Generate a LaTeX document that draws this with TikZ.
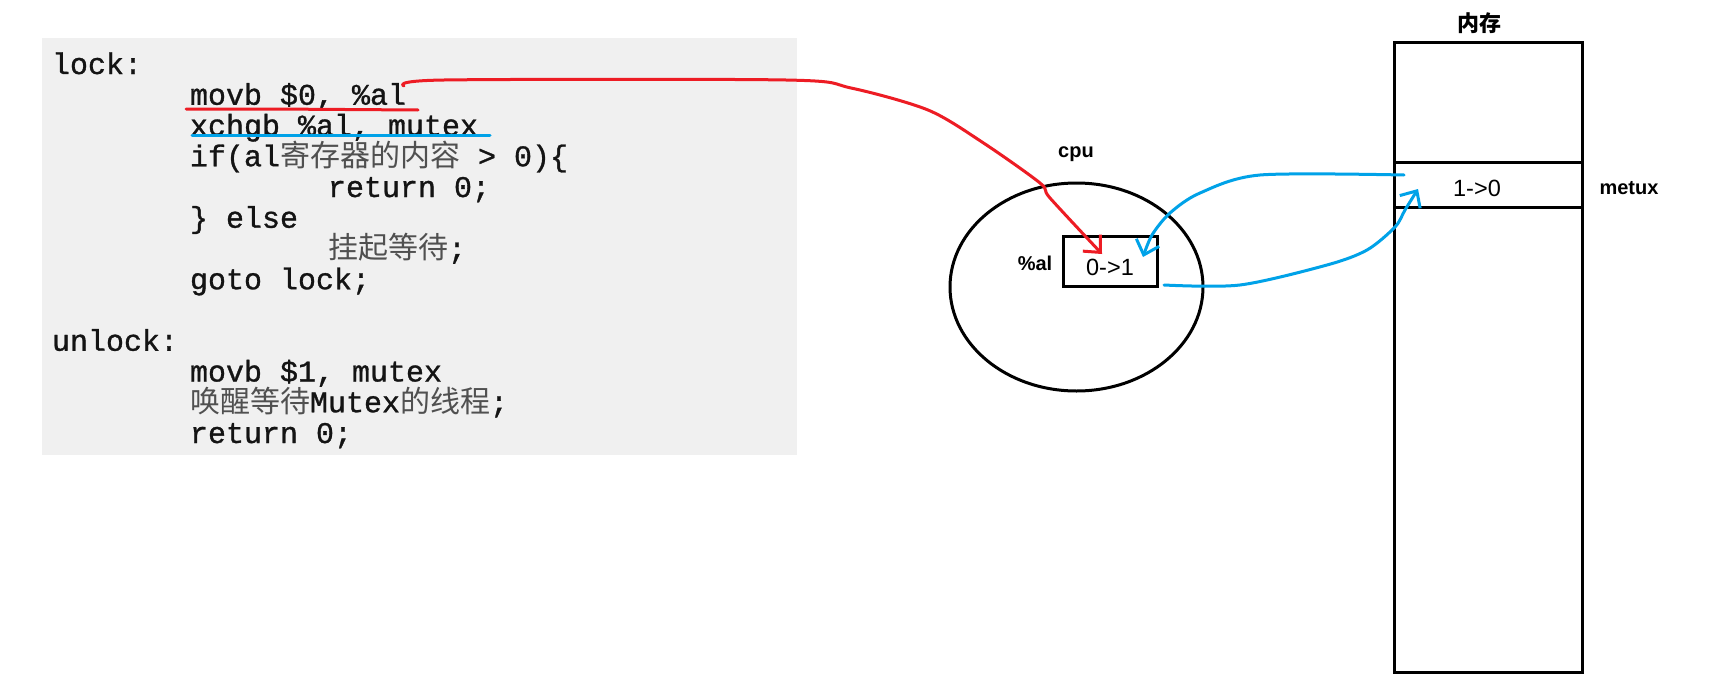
\documentclass[tikz,border=0pt]{standalone}
\usepackage{fontspec}
\usetikzlibrary{shapes.geometric,arrows.meta}
\newfontfamily\codefont[FakeBold=1]{Liberation Mono}
\newfontfamily\cjkfont{Noto Sans CJK SC}
\newfontfamily\labfont{Liberation Sans}
\definecolor{codebg}{HTML}{F0F0F0}
\definecolor{paintred}{HTML}{ED1C24}
\definecolor{paintblue}{HTML}{00A2E8}
\definecolor{cjkgray}{HTML}{505050}
\definecolor{codeink}{HTML}{141414}
\newcommand\cn[1]{{\cjkfont\color{cjkgray}#1}}
\begin{document}
\begin{tikzpicture}[x=1pt,y=-1pt,
  codeline/.style={anchor=base west,inner sep=0pt,outer sep=0pt,text=codeink,font=\codefont\fontsize{30}{30}\selectfont},
  lab/.style={inner sep=0pt,font=\labfont\bfseries\fontsize{20}{20}\selectfont},
  val/.style={inner sep=0pt,font=\labfont\fontsize{23.5}{23.5}\selectfont},
  blk/.style={draw=black,line width=3pt},
  redpen/.style={draw=paintred,line width=3pt,line cap=round,line join=round},
  bluepen/.style={draw=paintblue,line width=3pt,line cap=round,line join=round},
  barb/.style={-{Straight Barb[length=13pt,width=24pt,line width=3pt]}}
]
\useasboundingbox (0,0) rectangle (1711,688);
\fill[white] (0,0) rectangle (1711,688);
% code panel
\fill[codebg] (42,38) rectangle (797,455);
\node[codeline] (l0) at (52,74) {lock:};
\node[codeline] (l1) at (190,104.75) {movb \$0, \%al};
\node[codeline] (l2) at (190,135.5) {xchgb \%al, mutex};
\node[codeline] (l3) at (190,166.25) {if(al\cn{寄存器的内容} > 0)\{};
\node[codeline] (l4) at (328,197) {return 0;};
\node[codeline] (l5) at (190,227.75) {\} else};
\node[codeline] (l6) at (328,258.5) {\cn{挂起等待};};
\node[codeline] (l7) at (190,289.25) {goto lock;};
\node[codeline] (l9) at (52,350.75) {unlock:};
\node[codeline] (l10) at (190,381.5) {movb \$1, mutex};
\node[codeline] (l11) at (190,412.25) {\cn{唤醒等待}Mutex\cn{的线程};};
\node[codeline] (l12) at (190,443) {return 0;};
% cpu
\node[blk,ellipse,minimum width=253pt,minimum height=208pt,inner sep=0pt] (cpu) at (1076.5,287) {};
\node[lab] (cpulab) at (1076,154) {cpu};
\node[blk,rectangle,minimum width=94pt,minimum height=50pt,inner sep=0pt] (reg) at (1110,261) {};
\node[val] (regval) at (1110,267) {0->1};
\node[lab] (reglab) at (1035,263) {\%al};
% memory
\node[blk,rectangle,minimum width=188pt,minimum height=630pt,inner sep=0pt] (mem) at (1488,357) {};
\node[lab,font=\cjkfont\bfseries\fontsize{22}{22}\selectfont] (memlab) at (1479,23) {内存};
\node[minimum width=188pt,minimum height=44pt,inner sep=0pt] (mrow) at (1488,185) {};
\draw[blk] (mrow.north west) -- (mrow.north east);
\draw[blk] (mrow.south west) -- (mrow.south east);
\node[val] (mval) at (1477,188) {1->0};
\node[lab] (mname) at (1629,188) {metux};
% underlines
\coordinate (ru1) at (186,109);
\coordinate (ru2) at (418,110);
\draw[redpen] (ru1) -- (272,109) -- (ru2);
\coordinate (bu1) at (192,135);
\coordinate (bu2) at (490,135);
\draw[bluepen] (bu1) -- (bu2);
% red connector
\coordinate (rs) at (404,86);
\coordinate (rt) at (1102,254);
\draw[redpen,barb] plot[smooth,tension=0.5] coordinates {(rs) (444,80) (786,80) (851,88) (928,110) (982,142) (1040,183) (1050,198) (rt)};
% blue connectors
\coordinate (b1s) at (1404,175);
\coordinate (b1t) at (1143,257);
\draw[bluepen,barb] plot[smooth,tension=0.5] coordinates {(b1s) (1260,175) (1200,193) (1170,213) (1152,235) (b1t)};
\coordinate (b2s) at (1164,285);
\coordinate (b2t) at (1418,189);
\draw[bluepen,barb] plot[smooth,tension=0.5] coordinates {(b2s) (1240,285) (1327,265) (1367,250) (1395,227) (1405,210) (b2t)};
\end{tikzpicture}
\end{document}
